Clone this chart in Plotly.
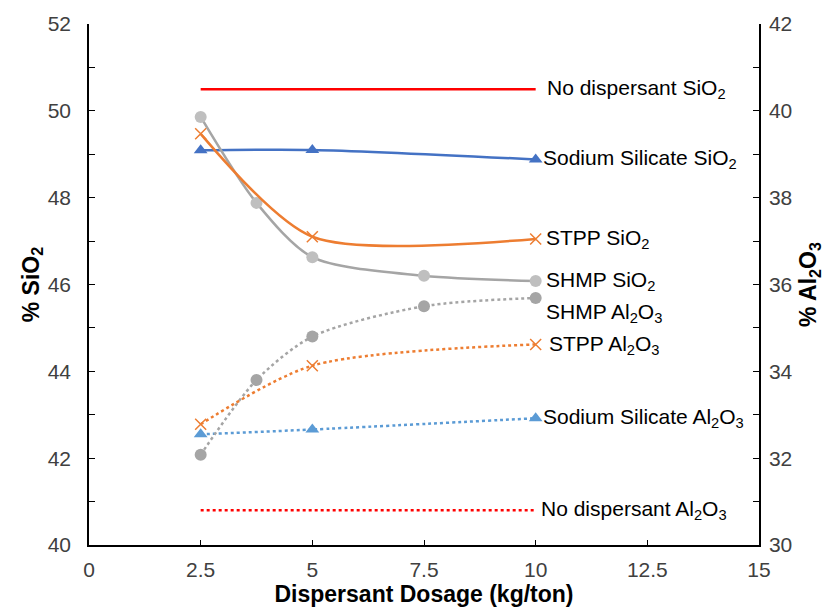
import plotly.graph_objects as go

# Data
x_nd = [2.5, 10]
nd_sio2 = [50.5, 50.5]
nd_al2o3 = [30.8, 30.8]

x_ss = [2.5, 5, 10]
ss_sio2 = [49.09, 49.1, 48.88]
ss_al2o3 = [32.55, 32.66, 32.92]

x_stpp = [2.5, 5, 10]
stpp_sio2 = [49.47, 47.1, 47.05]
stpp_al2o3 = [32.78, 34.13, 34.62]

x_shmp = [2.5, 3.75, 5, 7.5, 10]
shmp_sio2 = [49.86, 47.88, 46.63, 46.2, 46.08]
shmp_al2o3 = [32.08, 33.8, 34.8, 35.5, 35.69]

labels_sio2 = [
    ("No dispersant SiO<sub>2</sub>", 50.5, 10.22),
    ("Sodium Silicate SiO<sub>2</sub>", 48.88, 10.12),
    ("STPP SiO<sub>2</sub>", 47.05, 10.18),
    ("SHMP SiO<sub>2</sub>", 46.08, 10.18),
]
labels_al2o3 = [
    ("SHMP Al<sub>2</sub>O<sub>3</sub>", 35.35, 10.18),
    ("STPP Al<sub>2</sub>O<sub>3</sub>", 34.6, 10.25),
    ("Sodium Silicate Al<sub>2</sub>O<sub>3</sub>", 32.92, 10.12),
    ("No dispersant Al<sub>2</sub>O<sub>3</sub>", 30.8, 10.08),
]

RED = "#FF0000"
BLUE = "#4472C4"
LBLUE = "#5B9BD5"
ORANGE = "#ED7D31"
GRAY = "#A5A5A5"
LGRAY = "#BFBFBF"

FONT = "Arial, Liberation Sans, sans-serif"

fig = go.Figure()

# SiO2 series (left axis)
fig.add_trace(go.Scatter(x=x_nd, y=nd_sio2, mode="lines", line=dict(color=RED, width=2.5)))
fig.add_trace(go.Scatter(x=x_ss, y=ss_sio2, mode="lines+markers",
                         line=dict(color=BLUE, width=2.5, shape="spline", smoothing=0.8),
                         marker=dict(symbol="triangle-up", size=12, color=BLUE)))
fig.add_trace(go.Scatter(x=x_shmp, y=shmp_sio2, mode="lines+markers",
                         line=dict(color=GRAY, width=2.5, shape="spline", smoothing=0.8),
                         marker=dict(symbol="circle", size=12, color=LGRAY)))
fig.add_trace(go.Scatter(x=x_stpp, y=stpp_sio2, mode="lines+markers",
                         line=dict(color=ORANGE, width=2.5, shape="spline", smoothing=0.75),
                         marker=dict(symbol="x-thin-open", size=11, color=ORANGE,
                                     line=dict(color=ORANGE, width=1.5))))

# Al2O3 series (right axis)
fig.add_trace(go.Scatter(x=x_nd, y=nd_al2o3, mode="lines", yaxis="y2",
                         line=dict(color=RED, width=2.5, dash="dot")))
fig.add_trace(go.Scatter(x=x_ss, y=ss_al2o3, mode="lines+markers", yaxis="y2",
                         line=dict(color=LBLUE, width=2.5, dash="dot", shape="spline", smoothing=0.8),
                         marker=dict(symbol="triangle-up", size=12, color=LBLUE)))
fig.add_trace(go.Scatter(x=x_shmp, y=shmp_al2o3, mode="lines+markers", yaxis="y2",
                         line=dict(color=GRAY, width=2.5, dash="dot", shape="spline", smoothing=0.8),
                         marker=dict(symbol="circle", size=12, color=GRAY)))
fig.add_trace(go.Scatter(x=x_stpp, y=stpp_al2o3, mode="lines+markers", yaxis="y2",
                         line=dict(color=ORANGE, width=2.5, dash="dot", shape="spline", smoothing=0.8),
                         marker=dict(symbol="x-thin-open", size=11, color=ORANGE,
                                     line=dict(color=ORANGE, width=1.5))))

annotations = []
for txt, yv, xv in labels_sio2:
    annotations.append(dict(x=xv, y=yv, xref="x", yref="y", text=txt, showarrow=False,
                            xanchor="left", yanchor="middle",
                            font=dict(family=FONT, size=21, color="#000000")))
for txt, yv, xv in labels_al2o3:
    annotations.append(dict(x=xv, y=yv, xref="x", yref="y2", text=txt, showarrow=False,
                            xanchor="left", yanchor="middle",
                            font=dict(family=FONT, size=21, color="#000000")))

tickfont = dict(family=FONT, size=21, color="#404040")
titlefont = dict(family=FONT, size=23, color="#000000")

fig.update_layout(
    width=829, height=613,
    margin=dict(l=89, r=67, t=21, b=68),
    paper_bgcolor="white", plot_bgcolor="white",
    showlegend=False,
    annotations=annotations,
    xaxis=dict(range=[0, 15], dtick=2.5, tick0=0, showgrid=False, zeroline=False,
               showline=True, linecolor="black", linewidth=1.5,
               ticks="inside", ticklen=5, tickcolor="black", tickfont=tickfont,
               ticklabelstandoff=5,
               title=dict(text="<b>Dispersant Dosage (kg/ton)</b>", font=titlefont, standoff=0)),
    yaxis=dict(range=[40, 52], dtick=2, showgrid=False, zeroline=False,
               showline=True, linecolor="black", linewidth=1.5,
               ticks="inside", ticklen=6, tickcolor="black", tickfont=tickfont,
               ticklabelstandoff=12,
               minor=dict(dtick=1, ticks="inside", ticklen=6, tickcolor="black"),
               title=dict(text="<b>% SiO<sub>2</sub></b>", font=titlefont, standoff=2)),
    yaxis2=dict(range=[30, 42], dtick=2, overlaying="y", side="right", showgrid=False, zeroline=False,
                showline=True, linecolor="black", linewidth=1.5,
                ticks="inside", ticklen=6, tickcolor="black", tickfont=tickfont,
                ticklabelstandoff=4,
                minor=dict(dtick=1, ticks="inside", ticklen=6, tickcolor="black"),
                title=dict(text="<b>% Al<sub>2</sub>O<sub>3</sub></b>", font=titlefont, standoff=8)),
)

fig.write_html("out.html")
